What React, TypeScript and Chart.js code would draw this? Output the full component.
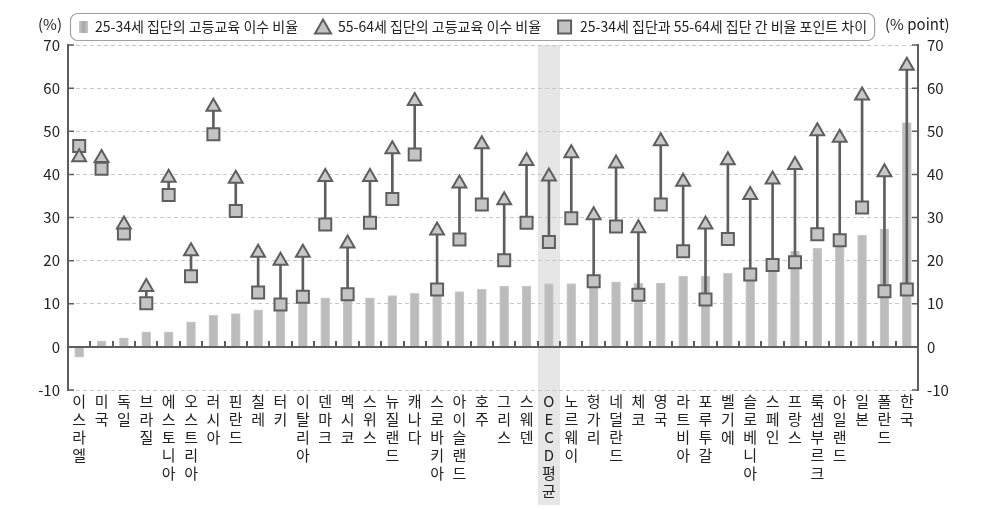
import React, { useEffect, useRef } from "react";
import { Chart, registerables } from "chart.js";

Chart.register(...registerables);

const categories = [
  "이스라엘", "미국", "독일", "브라질", "에스토니아", "오스트리아", "러시아", "핀란드", "칠레", "터키",
  "이탈리아", "덴마크", "멕시코", "스위스", "뉴질랜드", "캐나다", "스로바키아", "아이슬랜드", "호주", "그리스",
  "스웨덴", "OECD평균", "노르웨이", "헝가리", "네덜란드", "체코", "영국", "라트비아", "포루투갈", "벨기에",
  "슬로베니아", "스페인", "프랑스", "룩셈부르크", "아일랜드", "일본", "폴란드", "한국",
];

// gray bars
const barValues = [
  -2.4, 1.4, 2.1, 3.5, 3.5, 5.8, 7.3, 7.7, 8.6, 10.0,
  10.5, 11.4, 11.2, 11.4, 11.9, 12.4, 12.6, 12.8, 13.4, 14.1,
  14.1, 14.7, 14.7, 15.0, 15.1, 14.8, 14.8, 16.4, 16.4, 17.1,
  17.6, 19.0, 22.2, 22.9, 23.5, 25.9, 27.4, 52.0,
];

// triangles
const triangleValues = [
  44.0, 43.8, 28.4, 13.9, 39.2, 22.2, 55.7, 39.0, 21.8, 20.0,
  21.8, 39.4, 24.0, 39.4, 45.8, 57.0, 27.0, 37.9, 47.0, 34.0,
  43.1, 39.5, 44.9, 30.5, 42.5, 27.5, 47.7, 38.3, 28.4, 43.3,
  35.2, 38.8, 42.2, 50.0, 48.5, 58.3, 40.5, 65.2,
];

// squares
const squareValues = [
  46.6, 41.3, 26.3, 10.1, 35.2, 16.4, 49.3, 31.5, 12.6, 9.8,
  11.6, 28.4, 12.2, 28.8, 34.3, 44.6, 13.3, 24.9, 33.0, 20.1,
  28.8, 24.3, 29.8, 15.2, 27.9, 12.1, 33.0, 22.2, 11.0, 25.0,
  16.8, 19.0, 19.6, 26.1, 24.7, 32.3, 12.9, 13.3,
];

const legendLabels = [
  "25-34세 집단의 고등교육 이수 비율",
  "55-64세 집단의 고등교육 이수 비율",
  "25-34세 집단과 55-64세 집단 간 비율 포인트 차이",
];

const leftUnit = "(%)";
const rightUnit = "(% point)";
const highlightCategory = "OECD평균";

const yMin = -10;
const yMax = 70;
const yStep = 10;

const FONT = '"Noto Sans CJK KR", "Noto Sans", sans-serif';
const DARK = "#5e5e5e";

const decorPlugin = {
  id: "decor",
  beforeDraw(chart: any) {
    const { ctx, chartArea, scales } = chart;
    const xs = scales.x;
    const idx = categories.indexOf(highlightCategory);
    const w = (chartArea.right - chartArea.left) / categories.length;
    const cx = xs.getPixelForValue(idx);
    ctx.save();
    ctx.fillStyle = "#e6e6e6";
    ctx.fillRect(cx - w / 2, chartArea.top, w, 505 - chartArea.top);
    ctx.restore();
  },
  afterDatasetsDraw(chart: any) {
    const { ctx, chartArea, scales } = chart;
    const ys = scales.y;
    const y0 = ys.getPixelForValue(0);
    const w = (chartArea.right - chartArea.left) / categories.length;
    ctx.save();
    ctx.strokeStyle = DARK;
    ctx.lineWidth = 2;
    ctx.beginPath();
    ctx.moveTo(chartArea.left, y0);
    ctx.lineTo(chartArea.right, y0);
    ctx.stroke();
    // category boundary ticks
    for (let k = 1; k < categories.length; k++) {
      const x = Math.round(chartArea.left + k * w);
      ctx.beginPath();
      ctx.moveTo(x, y0);
      ctx.lineTo(x, y0 - 6);
      ctx.stroke();
    }
    // inward y ticks
    ctx.lineWidth = 1.5;
    for (let v = yMin; v <= yMax; v += yStep) {
      const y = ys.getPixelForValue(v);
      ctx.beginPath();
      ctx.moveTo(chartArea.left, y);
      ctx.lineTo(chartArea.left + 6, y);
      ctx.moveTo(chartArea.right, y);
      ctx.lineTo(chartArea.right - 6, y);
      ctx.stroke();
    }
    ctx.restore();
  },
  afterDraw(chart: any) {
    const { ctx } = chart;
    ctx.save();
    // units
    ctx.fillStyle = "#222";
    ctx.font = `15px ${FONT}`;
    ctx.textBaseline = "middle";
    ctx.textAlign = "right";
    ctx.fillText(leftUnit, 62, 24);
    ctx.textAlign = "left";
    ctx.fillText(rightUnit, 885, 24);

    // legend
    ctx.font = `14px ${FONT}`;
    const cy = 27;
    const t1 = 95;
    const w1 = ctx.measureText(legendLabels[0]).width;
    const triC = t1 + w1 + 25;
    const t2 = triC + 15;
    const w2 = ctx.measureText(legendLabels[1]).width;
    const sqL = t2 + w2 + 17;
    const t3 = sqL + 22;
    const w3 = ctx.measureText(legendLabels[2]).width;
    const boxR = t3 + w3 + 7;

    // box
    ctx.strokeStyle = "#a0a0a0";
    ctx.lineWidth = 1.2;
    ctx.beginPath();
    (ctx as any).roundRect(70.5, 13.5, boxR - 70, 27, 7);
    ctx.stroke();

    // bar icon
    const g = ctx.createLinearGradient(79, 0, 88, 0);
    g.addColorStop(0, "#c8c8c8");
    g.addColorStop(0.5, "#a8a8a8");
    g.addColorStop(1, "#c8c8c8");
    ctx.fillStyle = g;
    ctx.fillRect(79, 21, 9, 12);

    // triangle icon
    ctx.fillStyle = "#c4c4c4";
    ctx.strokeStyle = DARK;
    ctx.lineWidth = 2;
    ctx.beginPath();
    ctx.moveTo(triC, 19.5);
    ctx.lineTo(triC + 8, 33.5);
    ctx.lineTo(triC - 8, 33.5);
    ctx.closePath();
    ctx.fill();
    ctx.stroke();

    // square icon
    ctx.beginPath();
    ctx.rect(sqL, 20.5, 13, 13);
    ctx.fill();
    ctx.stroke();

    ctx.fillStyle = "#222";
    ctx.textAlign = "left";
    ctx.textBaseline = "middle";
    ctx.fillText(legendLabels[0], t1, cy);
    ctx.fillText(legendLabels[1], t2, cy);
    ctx.fillText(legendLabels[2], t3, cy);
    ctx.restore();
  },
};

export default function App() {
  const ref = useRef<HTMLCanvasElement>(null);

  useEffect(() => {
    Chart.defaults.font.family = FONT;
    const chart = new Chart(ref.current as HTMLCanvasElement, {
      type: "bar",
      data: {
        labels: categories,
        datasets: [
          {
            type: "line",
            label: legendLabels[1],
            data: triangleValues,
            showLine: false,
            pointStyle: "triangle",
            pointRadius: 8,
            pointBorderWidth: 2,
            pointBackgroundColor: "#c8c8c8",
            pointBorderColor: DARK,
            order: 0,
            yAxisID: "y",
          } as any,
          {
            type: "line",
            label: legendLabels[2],
            data: squareValues,
            showLine: false,
            pointStyle: "rect",
            pointRadius: 8.5,
            pointBorderWidth: 2,
            pointBackgroundColor: "#c4c4c4",
            pointBorderColor: DARK,
            order: 1,
            yAxisID: "y",
          } as any,
          {
            type: "bar",
            label: "connector",
            data: categories.map((_, i) => [squareValues[i], triangleValues[i]]),
            backgroundColor: DARK,
            barThickness: 2,
            grouped: false,
            order: 2,
            yAxisID: "y",
          } as any,
          {
            type: "bar",
            label: legendLabels[0],
            data: barValues,
            backgroundColor: "#bcbcbc",
            borderColor: "#cdcdcd",
            borderWidth: 1,
            barThickness: 9,
            grouped: false,
            order: 3,
            yAxisID: "y1",
          } as any,
        ],
      },
      options: {
        responsive: false,
        animation: false,
        devicePixelRatio: 1,
        layout: { padding: { top: 45, left: 0, right: 0, bottom: 0 } },
        plugins: {
          legend: { display: false },
          tooltip: { enabled: false },
        },
        scales: {
          x: {
            offset: true,
            grid: { display: false },
            border: { display: false },
            ticks: {
              autoSkip: false,
              maxRotation: 0,
              minRotation: 0,
              padding: -6,
              color: "#222",
              font: { size: 15, family: FONT, lineHeight: 1.2 },
              callback: (_v: any, i: number) => categories[i].split(""),
            },
            afterFit: (s: any) => {
              s.height = 120;
            },
          },
          y: {
            position: "left",
            min: yMin,
            max: yMax,
            ticks: {
              stepSize: yStep,
              padding: 8,
              color: "#222",
              font: { size: 15, family: FONT },
            },
            grid: {
              drawTicks: false,
              color: (c: any) => (c.tick && c.tick.value === 0 ? "rgba(0,0,0,0)" : "#c8c8c8"),
              lineWidth: 1,
            },
            border: { display: true, color: DARK, width: 2, dash: [4, 3] },
            afterFit: (s: any) => {
              s.width = 68;
            },
          },
          y1: {
            position: "right",
            min: yMin,
            max: yMax,
            ticks: {
              stepSize: yStep,
              padding: 9,
              color: "#222",
              font: { size: 15, family: FONT },
            },
            grid: { drawTicks: false, drawOnChartArea: false },
            border: { display: true, color: DARK, width: 2 },
            afterFit: (s: any) => {
              s.width = 69;
            },
          },
        },
      } as any,
      plugins: [decorPlugin],
    });
    return () => chart.destroy();
  }, []);

  return (
    <div style={{ position: "absolute", left: 0, top: 0, width: 987, height: 510, background: "#fff" }}>
      <canvas ref={ref} width={987} height={510} style={{ width: 987, height: 510, display: "block" }} />
    </div>
  );
}
